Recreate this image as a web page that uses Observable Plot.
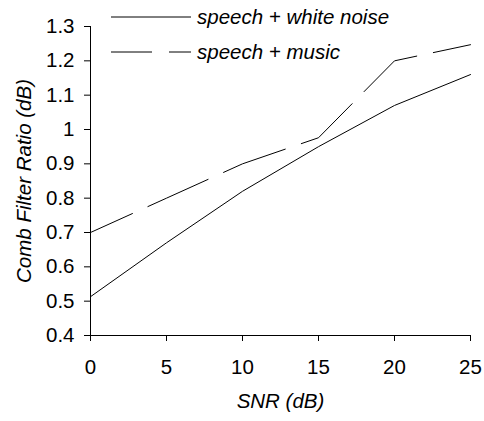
<!DOCTYPE html>
<html>
<head>
<meta charset="utf-8">
<script src="https://cdn.jsdelivr.net/npm/d3@7"></script>
<script src="https://cdn.jsdelivr.net/npm/@observablehq/plot@0.6"></script>
<style>
  html, body { margin: 0; padding: 0; background: #fff; }
  #wrap { position: relative; width: 484px; height: 421px; }
  #legend { position: absolute; left: 0; top: 0; pointer-events: none; }
</style>
</head>
<body>
<div id="wrap"></div>
<script>
// ---- data ----
const snr = [0, 5, 10, 15, 20, 25];
const whiteNoise = [0.513, 0.67, 0.82, 0.95, 1.07, 1.16];
const music = [0.70, 0.80, 0.90, 0.976, 1.20, 1.247];
const seriesNames = ["speech + white noise", "speech + music"];
const xTicks = [0, 5, 10, 15, 20, 25];
const yTicks = [0.4, 0.5, 0.6, 0.7, 0.8, 0.9, 1.0, 1.1, 1.2, 1.3];
const xLabel = "SNR (dB)";
const yLabel = "Comb Filter Ratio (dB)";

const seriesValues = [whiteNoise, music];
const dashes = [null, "66 17"];
const table = seriesNames.flatMap((name, s) =>
  snr.map((x, i) => ({series: name, x, y: seriesValues[s][i]})));

const FONT = "'Liberation Sans', Arial, sans-serif";
const FS = 20.5;

const chart = Plot.plot({
  width: 484,
  height: 421,
  marginLeft: 90,
  marginRight: 14,
  marginTop: 26,
  marginBottom: 86,
  style: {fontFamily: FONT, fontSize: FS + "px", color: "#000", background: "#fff"},
  x: {domain: [0, 25]},
  y: {domain: [0.4, 1.3]},
  marks: [
    Plot.axisX({ticks: xTicks, tickSize: 6, tickPadding: 18, tickFormat: d => String(d),
      label: xLabel, labelAnchor: "center", labelOffset: 72, labelArrow: "none", stroke: "#000"}),
    Plot.axisY({ticks: yTicks, tickSize: 6, tickPadding: 10, tickFormat: d => String(+d.toFixed(1)),
      label: yLabel, labelAnchor: "center", labelOffset: 74, labelArrow: "none", stroke: "#000"}),
    Plot.ruleX([0], {stroke: "#000", strokeWidth: 1}),
    Plot.ruleY([0.4], {stroke: "#000", strokeWidth: 1}),
    ...seriesNames.map((name, s) => Plot.line(table.filter(d => d.series === name), {
      x: "x", y: "y", stroke: "#000", strokeWidth: 1,
      strokeDasharray: dashes[s], strokeDashoffset: dashes[s] ? 20 : null
    }))
  ]
});

document.getElementById("wrap").appendChild(chart);

// italic axis titles
const svg = d3.select(chart);
svg.selectAll('g[aria-label="x-axis label"] text, g[aria-label="y-axis label"] text')
  .style("font-style", "italic");

// legend overlay
const leg = d3.select("#wrap").append("svg")
  .attr("id", "legend").attr("width", 484).attr("height", 70);
const rows = leg.selectAll("g").data(seriesNames).join("g")
  .attr("transform", (d, i) => `translate(111,${17 + i * 35})`);
rows.append("line")
  .attr("x1", 0).attr("x2", 80).attr("y1", 0).attr("y2", 0)
  .attr("stroke", "#000").attr("stroke-width", 1)
  .attr("stroke-dasharray", (d, i) => dashes[i])
  .attr("stroke-dashoffset", (d, i) => dashes[i] ? 25 : null);
rows.append("text")
  .attr("x", 86).attr("y", 0).attr("dy", "0.35em")
  .attr("font-family", FONT).attr("font-size", FS).attr("font-style", "italic")
  .attr("fill", "#000")
  .text(d => d);
</script>
</body>
</html>
